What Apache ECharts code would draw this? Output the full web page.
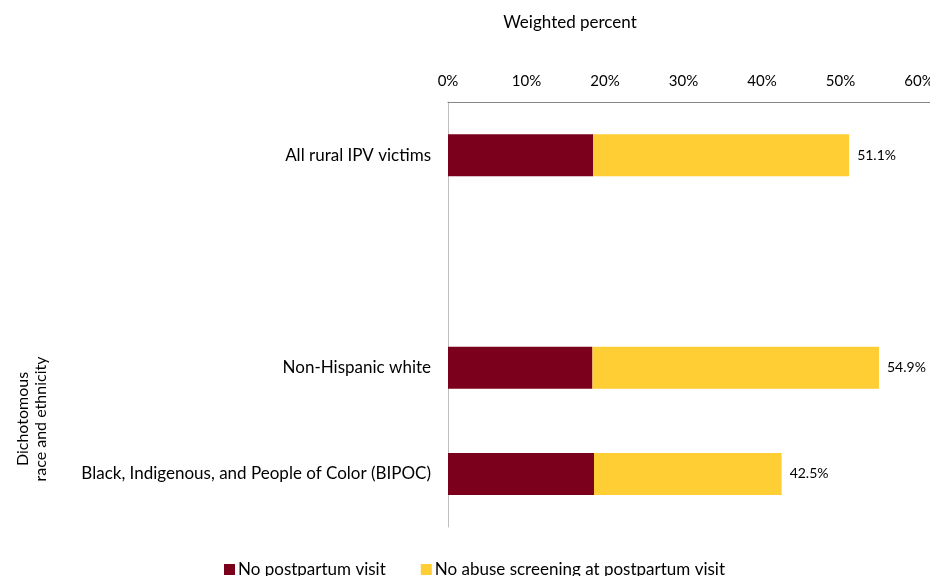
<!DOCTYPE html>
<html><head><meta charset="utf-8">
<script src="https://cdn.jsdelivr.net/npm/echarts@6/dist/echarts.min.js"></script>
<style>html,body{margin:0;padding:0;background:#fff;overflow:hidden}#c{width:930px;height:576px}</style>
</head><body><div id="c"></div>
<script>
const categories = ["All rural IPV victims", "", "Non-Hispanic white", "Black, Indigenous, and People of Color (BIPOC)"];
const noVisit = [18.5, null, 18.4, 18.6];
const totals = [51.1, null, 54.9, 42.5];
const noScreening = [32.6, null, 36.5, 23.9];
const xTicks = [0, 10, 20, 30, 40, 50, 60];
const seriesNames = ["No postpartum visit", "No abuse screening at postpartum visit"];
const yAxisTitle = "Dichotomous\nrace and ethnicity";
const xAxisTitle = "Weighted percent";

const FONT = "Lato";
const chart = echarts.init(document.getElementById('c'), null, { width: 930, height: 576 });
chart.setOption({
  animation: false,
  textStyle: { fontFamily: FONT },
  title: {
    text: xAxisTitle,
    left: 565, top: 9, textAlign: 'center',
    textStyle: { fontFamily: FONT, fontSize: 17, fontWeight: 'normal', color: '#000' }
  },
  graphic: [
    {
      type: 'text', x: 32, y: 419, rotation: Math.PI / 2,
      style: { text: yAxisTitle, font: '16px ' + FONT, fill: '#000', align: 'center', verticalAlign: 'middle', lineHeight: 18 }
    },
    {
      type: 'line', shape: { x1: 918, y1: 102.5, x2: 930, y2: 102.5 },
      style: { stroke: '#868686', lineWidth: 1 }, z: 10
    }
  ],
  grid: { left: 448, width: 471, top: 102, height: 425, containLabel: false, outerBoundsMode: 'none' },
  legend: {
    top: 556, left: 219,
    itemWidth: 11, itemHeight: 11, itemGap: 35,
    icon: 'rect',
    textStyle: { fontFamily: FONT, fontSize: 17, color: '#000', padding: [0, 0, 0, -2] },
    data: seriesNames
  },
  xAxis: {
    type: 'value', position: 'top',
    min: xTicks[0], max: xTicks[xTicks.length - 1], interval: 10,
    axisLine: { show: true, lineStyle: { color: '#868686', width: 1 } },
    axisTick: { show: false },
    splitLine: { show: false },
    axisLabel: { formatter: v => v + '%', fontFamily: FONT, fontSize: 15, color: '#000', margin: 13 }
  },
  yAxis: {
    type: 'category', data: categories, inverse: true,
    axisLine: { show: true, lineStyle: { color: '#bfbfbf' } },
    axisTick: { show: false },
    axisLabel: { fontFamily: FONT, fontSize: 17, color: '#000', margin: 17 }
  },
  series: [
    {
      name: seriesNames[0], type: 'bar', stack: 's', data: noVisit,
      barWidth: 42, itemStyle: { color: '#7a001c' }
    },
    {
      name: seriesNames[1], type: 'bar', stack: 's', data: noScreening,
      barWidth: 42, itemStyle: { color: '#ffcd34' },
      label: {
        show: true, position: 'right', distance: 8,
        formatter: p => totals[p.dataIndex] == null ? '' : totals[p.dataIndex].toFixed(1) + '%',
        fontFamily: FONT, fontSize: 14, color: '#000'
      }
    }
  ]
});
</script></body></html>
